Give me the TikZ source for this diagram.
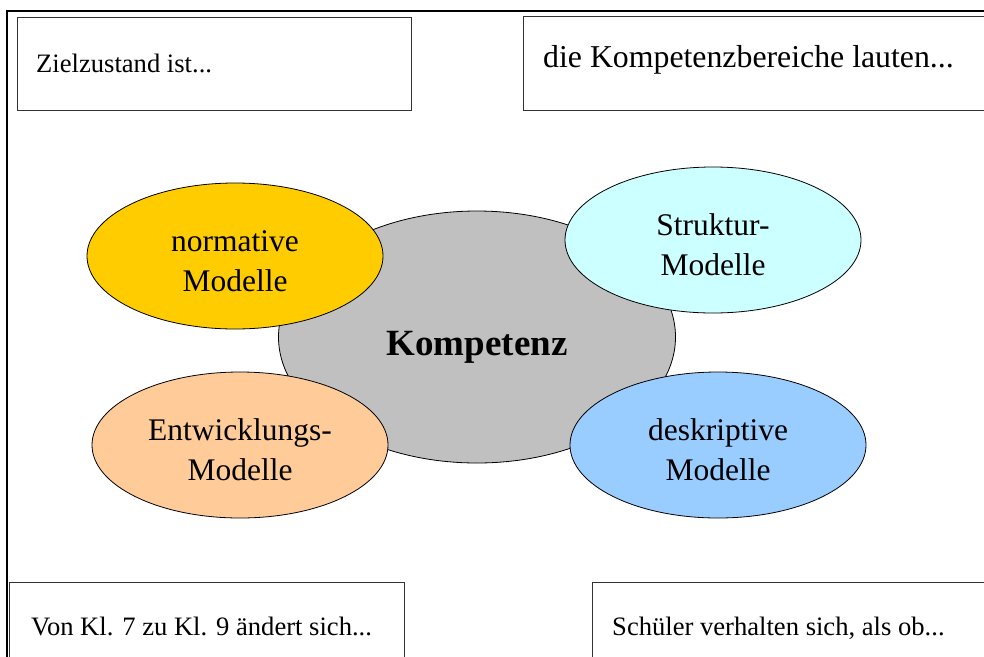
\documentclass[tikz,border=0pt]{standalone}
\usepackage{fontspec}
\setmainfont{Liberation Serif}
\usetikzlibrary{shapes.geometric}
\definecolor{kgray}{HTML}{C0C0C0}
\definecolor{normc}{HTML}{FFCC00}
\definecolor{strukc}{HTML}{CCFFFF}
\definecolor{entwc}{HTML}{FFCC99}
\definecolor{deskc}{HTML}{99CCFF}
\begin{document}
\begin{tikzpicture}[x=1pt,y=-1pt,
  frameline/.style={draw=black, line width=1.3pt},
  infobox/.style={rectangle, draw=black!80, line width=1.2pt, fill=white,
    anchor=north west, inner sep=0pt},
  boxtext/.style={anchor=base west, inner sep=0pt,
    font=\fontsize{26.6}{32}\selectfont},
  bubble/.style={ellipse, draw=black, line width=0.8pt, inner sep=0pt,
    minimum width=296pt, minimum height=146pt},
  bubbletext/.style={align=center, inner sep=0pt,
    font=\fontsize{31.5}{40}\selectfont},
]
\useasboundingbox (0,0) rectangle (984,656);
\clip (0,0) rectangle (984,656);
\fill[white] (0,0) rectangle (984,656);

% outer frame, running off the page to the right and bottom
\draw[frameline] (7,11) rectangle (1010,700);

% corner boxes
\node[infobox, minimum width=394.5pt, minimum height=93.5pt] (tl) at (16.5,16.5) {};
\node[infobox, minimum width=480pt, minimum height=94.5pt] (tr) at (522.5,15.5) {};
\node[infobox, minimum width=395pt, minimum height=130pt] (bl) at (9,582) {};
\node[infobox, minimum width=420pt, minimum height=130pt] (br) at (592,582) {};

\node[boxtext] (tltext) at (36,72) {Zielzustand ist...};
\node[boxtext, font=\fontsize{31.8}{38}\selectfont] (trtext) at (543,67) {die Kompetenzbereiche lauten...};
\node[boxtext] (bltext) at (31,635) {Von Kl. 7 zu Kl. 9 ändert sich...};
\node[boxtext] (brtext) at (612,635) {Schüler verhalten sich, als ob...};

% central ellipse
\node[bubble, fill=kgray, minimum width=397pt, minimum height=252pt] (komp) at (477,337) {};
\node[anchor=base, inner sep=0pt, font=\fontsize{37}{44}\selectfont\bfseries] (komptext) at (477,355) {Kompetenz};

% surrounding model ellipses
\node[bubble, fill=normc] (norm) at (235,256) {};
\node[bubble, fill=strukc] (struk) at (713,240) {};
\node[bubble, fill=entwc] (entw) at (240,445) {};
\node[bubble, fill=deskc] (desk) at (718,445) {};

\node[bubbletext, yshift=-5pt] (normtext) at (norm) {normative\\Modelle};
\node[bubbletext, yshift=-5pt] (struktext) at (struk) {Struktur-\\Modelle};
\node[bubbletext, yshift=-5pt] (entwtext) at (entw) {Entwicklungs-\\Modelle};
\node[bubbletext, yshift=-5pt] (desktext) at (desk) {deskriptive\\Modelle};
\end{tikzpicture}
\end{document}
